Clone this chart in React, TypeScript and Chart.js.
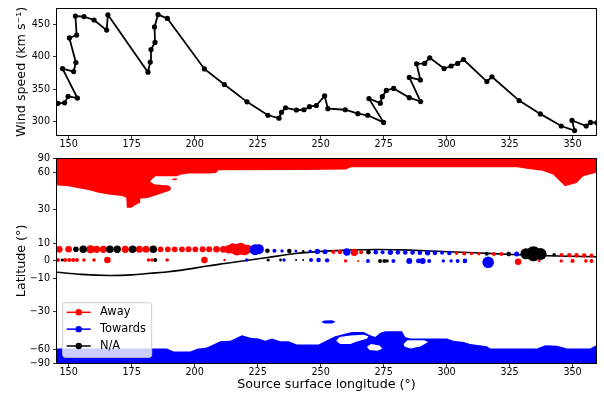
import React, { useEffect, useRef } from "react";
import { Chart, registerables } from "chart.js";

Chart.register(...registerables);

// ---------- axes ----------
const lonMin = 145.4;
const lonMax = 359.3;
const lonTicks = [150, 175, 200, 225, 250, 275, 300, 325, 350];
const speedMin = 279;
const speedMax = 474;
const speedTicks = [300, 350, 400, 450];
const latTicks = [-90, -60, -30, -10, 0, 10, 30, 60, 90];

// ---------- top panel: wind speed ----------
const speedLon = [145.8, 148.4, 149.8, 153.5, 147.6, 152.0, 152.9, 150.3, 153.2, 152.7, 156.1, 160.1, 165.1, 165.6, 181.5, 182.4, 182.7, 184.3, 184.1, 185.5, 189.2, 203.9, 211.8, 220.8, 229.1, 233.5, 234.5, 236.1, 240.4, 243.4, 245.6, 248.3, 251.6, 252.9, 259.8, 264.8, 268.7, 275.0, 269.2, 273.7, 274.5, 276.1, 279.0, 285.2, 289.7, 285.2, 289.6, 288.1, 291.3, 293.3, 299.0, 301.8, 304.4, 306.7, 316.0, 318.0, 328.8, 337.2, 345.5, 350.8, 349.8, 355.4, 357.1, 359.6];
const speedValue = [328, 328.7, 338.8, 336, 381.6, 377, 391, 428.9, 433.4, 462.7, 462, 456.6, 441, 464.6, 376, 391.7, 411, 422, 446, 465, 459, 381, 357, 330.2, 309.5, 305, 314, 321.1, 317.6, 318, 322.7, 324.6, 339.3, 319.6, 318, 312, 309.5, 298.5, 335.2, 328.2, 338.2, 347.9, 350.9, 336.7, 330.7, 368, 364, 389, 389.6, 398.2, 381.6, 385.6, 389.6, 395.6, 361.5, 369, 332.2, 311.6, 292.9, 285.9, 301.5, 292.9, 298.5, 298];

// ---------- bottom panel ----------
const seriesNames = ["Away", "Towards", "N/A"];

const trackLon = [145.4, 155, 166, 175, 182.4, 188, 195, 205, 212, 219, 229, 240, 252, 262, 272, 282, 291.5, 301, 311, 326, 344, 359.3];
const trackLat = [-6.4, -7.6, -8.2, -7.9, -7.0, -6.4, -5.2, -2.9, -1.5, -0.1, 1.9, 4.1, 5.5, 6.1, 6.4, 6.2, 5.7, 5.1, 4.6, 3.6, 2.7, 2.3];

const awayLon = [146.3, 150.0, 158.7, 161.1, 163.8, 172.5, 178.1, 180.7, 186.5, 189.4, 192.1, 195.0, 197.6, 200.3, 203.2, 205.8, 208.7, 211.4, 213.6, 215.2, 216.8, 218.3, 219.8, 221.0,
  255.1, 257.7, 263.4, 266.1, 304.0, 307.0, 309.9, 312.8, 318.8, 321.8, 345.6, 348.7, 351.6, 354.6, 357.5,
  145.8, 148.7, 150.3, 151.8, 153.3, 156.1, 160.1, 165.4, 181.7, 183.1, 189.1, 203.9, 211.9, 259.9, 264.9, 328.4, 336.8, 345.5, 350.0, 355.3, 357.5];
const awayLat = [6.5, 6.5, 6.5, 6.5, 6.5, 6.5, 6.5, 6.5, 6.5, 6.5, 6.5, 6.5, 6.5, 6.5, 6.5, 6.5, 6.5, 6.5, 6.5, 7.0, 6.3, 6.8, 6.2, 6.6,
  5.0, 5.0, 4.8, 4.8, 4.3, 4.2, 4.1, 4.0, 3.9, 3.8, 3.3, 3.2, 3.1, 3.0, 3.0,
  0.5, 0.5, 0.5, 0.5, 0.5, 0.5, 0.5, 0.5, 0.5, 0.5, 0.5, 0.5, 0.5, 0, 0, -0.5, 0, 0, 0, 0, 0];
const awaySize = [3.4, 3.3, 4.0, 3.6, 3.6, 3.6, 3.5, 3.5, 2.9, 2.9, 2.9, 2.9, 3.0, 2.9, 3.0, 3.0, 3.3, 3.4, 4.2, 5.2, 5.8, 6.0, 5.4, 4.5,
  2.0, 2.3, 3.7, 2.0, 1.7, 2.0, 1.7, 1.7, 2.0, 2.0, 2.0, 2.3, 2.3, 2.3, 2.0,
  2.0, 2.0, 2.0, 2.0, 2.0, 1.8, 1.8, 3.3, 1.8, 1.8, 1.8, 3.3, 1.2, 1.7, 1.0, 3.3, 1.3, 1.7, 2.1, 1.8, 2.0];

const towardsLon = [224.0, 225.5, 231.7, 234.7, 240.2, 245.9, 248.7, 251.8, 260.4, 271.9, 274.6, 277.7, 280.7, 283.6, 286.5, 289.4, 292.5, 295.4, 298.2, 301.1, 327.8,
  220.7, 235.5, 246.2, 249.2, 252.6, 268.8, 278.9, 285.2, 288.8, 290.5, 293.1, 298.7, 301.8, 304.4, 307.3, 316.5];
const towardsLat = [6.3, 6.6, 5.7, 5.6, 5.5, 5.4, 5.3, 5.1, 5.0, 4.9, 4.9, 4.8, 4.8, 4.7, 4.7, 4.6, 4.6, 4.5, 4.5, 4.4, 3.8,
  0.5, 0.5, 0.5, 0.5, 0.3, 0, 0, 0, 0, 0, 0, 0, 0, 0, 0, -0.8];
const towardsSize = [5.5, 5.0, 2.0, 1.7, 1.5, 1.7, 2.7, 2.5, 3.7, 2.3, 2.0, 2.7, 2.3, 2.3, 2.3, 2.3, 2.7, 2.3, 2.0, 2.3, 2.5,
  1.7, 1.7, 2.0, 2.3, 2.2, 2.0, 2.0, 3.0, 2.3, 3.0, 2.0, 1.7, 1.7, 2.0, 2.3, 5.8];

const naLon = [152.9, 155.8, 166.4, 169.3, 175.4, 183.6, 228.9, 237.6, 243.1, 269.0, 315.9, 324.7, 331.5, 334.5, 337.3, 342.7,
  147.5, 184.4, 229.2, 234.1, 240.3, 243.1, 273.6, 275.3, 276.4];
const naLat = [6.5, 6.5, 6.5, 6.5, 6.5, 6.5, 5.7, 5.5, 5.4, 4.9, 4.0, 3.8, 4.0, 4.0, 3.9, 3.4,
  0.5, 0.5, 0.5, 0.5, 0.5, 0.5, 0, 0, 0];
const naSize = [2.8, 3.8, 3.8, 3.7, 3.8, 3.8, 2.3, 2.3, 1.3, 2.3, 2.0, 2.3, 5.5, 7.5, 6.0, 1.7,
  1.6, 2.0, 1.6, 1.4, 1.0, 1.0, 2.0, 2.0, 1.7];

// polarity regions (lon / lat outlines)
const awayRegionLon = [140, 365, 365, 359, 354.2, 351.6, 347, 345, 342.3, 338, 331.8, 328, 262, 260, 244, 209.5, 208.5, 205.6, 197.6, 196.3, 194.3, 193, 184.4, 182.4, 183.1, 184.4, 189.7, 190.7, 190.3, 188.3, 184.4, 181.7, 178.4, 178.4, 176.5, 174.9, 173.1, 172.9, 171.2, 165.9, 161.9, 157.9, 154, 150, 146, 140];
const awayRegionLat = [90, 90, 59.4, 59.4, 56, 49.8, 47, 51.3, 57.7, 62, 64.5, 66.4, 66.4, 63.4, 63, 62.5, 59.5, 58.8, 58.8, 58.3, 57.5, 56, 56, 51.3, 49.8, 48.4, 47.6, 45.6, 43.6, 42.3, 39.9, 38.2, 37.4, 34.7, 33.1, 31.4, 31.4, 38.2, 39.4, 40.6, 41.8, 43.9, 45.4, 47, 47.6, 47.6];
const awayIslandLon = [191.0, 192.0, 193.4, 192.5, 191.2];
const awayIslandLat = [53.0, 54.0, 53.5, 52.2, 52.3];

const towardsRegionLon = [140, 189, 191.7, 198.3, 201, 204.9, 210.2, 214.2, 218.8, 222.1, 225.4, 228, 230.7, 234, 237.3, 240.6, 249.2, 252.5, 255.8, 258.5, 262.4, 267.1, 269.7, 271.7, 273.7, 275.7, 282.3, 283.6, 285.6, 300.1, 302.8, 306.8, 309.4, 316, 317.3, 335.9, 339.2, 343.8, 347.8, 357, 359.4, 365, 365, 140];
const towardsRegionLat = [-59, -59, -62.5, -62.5, -59.4, -57.9, -51.8, -51.5, -46.7, -48.9, -49.4, -51.5, -49.4, -51.8, -51.8, -54.9, -54.9, -50.9, -47.5, -46.1, -44.1, -44.1, -46.7, -48.1, -44.8, -43.5, -43.5, -48.1, -49.4, -49.4, -51.5, -52.5, -54.6, -56.6, -59, -59, -55.6, -56.2, -59, -59, -55.6, -55.6, -90, -90];
const towardsIslandLon = [250.3, 251.5, 254.5, 256, 254.5, 251.5];
const towardsIslandLat = [-36.8, -35.7, -35.6, -36.6, -37.8, -37.8];
const holeALon = [256.2, 257.5, 261.8, 267.05, 269, 268.4, 264.4, 261.8, 257.8];
const holeALat = [-51.5, -48.1, -46.9, -46.4, -47.5, -49.7, -52.1, -54.6, -54.6];
const holeBLon = [268.4, 270, 273.4, 274.5, 272.6, 269.4];
const holeBLat = [-57.2, -54.6, -56, -59.4, -61.7, -60.9];
const holeCLon = [282.9, 284.5, 291.1, 292.7, 289.8, 285.8, 283.4];
const holeCLat = [-54.6, -50.9, -50.9, -52.5, -56.6, -59, -57.2];

// ---------- styling ----------
const FAMILY = "'DejaVu Sans', sans-serif";
const RED = "#ff0000";
const BLUE = "#0000ff";
const BLACK = "#000000";
const tickFont = { family: FAMILY, size: 9.6 };
const titleFont = { family: FAMILY, size: 12.7 };

const sinLat = (lat: number) => Math.sin((lat * Math.PI) / 180);
const fmtLat = (v: number) => {
  const lat = Math.round((Math.asin(Math.max(-1, Math.min(1, v))) * 180) / Math.PI);
  return lat < 0 ? "\u2212" + Math.abs(lat) : String(lat);
};

const gridOpts = { drawOnChartArea: false, drawTicks: true, tickLength: 4, tickColor: BLACK, tickWidth: 0.8 };

const xScale = (height: number, title: string | null) => ({
  type: "linear" as const,
  min: lonMin,
  max: lonMax,
  afterBuildTicks: (s: any) => { s.ticks = lonTicks.map((v) => ({ value: v })); },
  afterFit: (s: any) => { s.height = height; },
  ticks: { font: tickFont, color: BLACK, padding: 0, maxRotation: 0, autoSkip: false },
  grid: gridOpts,
  border: { display: false },
  title: title
    ? { display: true, text: title, font: titleFont, color: BLACK, padding: { top: 0, bottom: 6.4 } }
    : { display: false },
});

const framePlugin = {
  id: "frame",
  afterDatasetsDraw(chart: any) {
    const { ctx, chartArea: a } = chart;
    ctx.save();
    ctx.strokeStyle = BLACK;
    ctx.lineWidth = 1;
    const l = Math.round(a.left) - 0.5, t = Math.round(a.top) - 0.5;
    const r = Math.round(a.right) + 0.5, b = Math.round(a.bottom) + 0.5;
    ctx.strokeRect(l, t, r - l, b - t);
    ctx.restore();
  },
};

const regions = [
  { lon: awayRegionLon, lat: awayRegionLat, color: RED },
  { lon: awayIslandLon, lat: awayIslandLat, color: RED },
  { lon: towardsRegionLon, lat: towardsRegionLat, color: BLUE },
  { lon: holeALon, lat: holeALat, color: "#ffffff" },
  { lon: holeBLon, lat: holeBLat, color: "#ffffff" },
  { lon: holeCLon, lat: holeCLat, color: "#ffffff" },
  { lon: towardsIslandLon, lat: towardsIslandLat, color: BLUE },
];

const regionsPlugin = {
  id: "regions",
  beforeDatasetsDraw(chart: any) {
    const { ctx, chartArea: a, scales } = chart;
    const xs = scales.x, ys = scales.y;
    ctx.save();
    ctx.beginPath();
    ctx.rect(a.left, a.top, a.right - a.left, a.bottom - a.top);
    ctx.clip();
    for (const r of regions) {
      ctx.beginPath();
      r.lon.forEach((lon, i) => {
        const px = xs.getPixelForValue(lon);
        const py = ys.getPixelForValue(sinLat(r.lat[i]));
        if (i === 0) ctx.moveTo(px, py); else ctx.lineTo(px, py);
      });
      ctx.closePath();
      ctx.fillStyle = r.color;
      ctx.fill();
    }
    ctx.restore();
  },
};

const legendColors = [RED, BLUE, BLACK];
const legendPlugin = {
  id: "boxLegend",
  afterDraw(chart: any) {
    const { ctx, chartArea: a } = chart;
    const bw = 89, bh = 54.6;
    const bx = a.left + 5.7, by = a.bottom - 5.7 - bh;
    ctx.save();
    ctx.beginPath();
    const rad = 2.5;
    ctx.moveTo(bx + rad, by);
    ctx.lineTo(bx + bw - rad, by);
    ctx.arcTo(bx + bw, by, bx + bw, by + rad, rad);
    ctx.lineTo(bx + bw, by + bh - rad);
    ctx.arcTo(bx + bw, by + bh, bx + bw - rad, by + bh, rad);
    ctx.lineTo(bx + rad, by + bh);
    ctx.arcTo(bx, by + bh, bx, by + bh - rad, rad);
    ctx.lineTo(bx, by + rad);
    ctx.arcTo(bx, by, bx + rad, by, rad);
    ctx.closePath();
    ctx.fillStyle = "rgba(255,255,255,0.8)";
    ctx.fill();
    ctx.strokeStyle = "#cccccc";
    ctx.lineWidth = 1;
    ctx.stroke();
    seriesNames.forEach((name, i) => {
      const cy = by + 9.6 + i * 16.85;
      ctx.strokeStyle = legendColors[i];
      ctx.lineWidth = 1.5;
      ctx.beginPath();
      ctx.moveTo(bx + 4, cy);
      ctx.lineTo(bx + 28, cy);
      ctx.stroke();
      ctx.fillStyle = legendColors[i];
      ctx.beginPath();
      ctx.arc(bx + 16, cy, 3.2, 0, Math.PI * 2);
      ctx.fill();
      ctx.fillStyle = BLACK;
      ctx.font = `11.4px ${FAMILY}`;
      ctx.textBaseline = "middle";
      ctx.textAlign = "left";
      ctx.fillText(name, bx + 37.3, cy);
    });
    ctx.restore();
  },
};

const pts = (lon: number[], lat: number[]) => lon.map((x, i) => ({ x, y: sinLat(lat[i]) }));

export default function App() {
  const topRef = useRef<HTMLCanvasElement>(null);
  const botRef = useRef<HTMLCanvasElement>(null);

  useEffect(() => {
    const top = new Chart(topRef.current as HTMLCanvasElement, {
      type: "scatter",
      data: {
        datasets: [
          {
            data: speedLon.map((x, i) => ({ x, y: speedValue[i] })),
            showLine: true,
            borderColor: BLACK,
            backgroundColor: BLACK,
            borderWidth: 1.8,
            pointRadius: 2.6,
            pointBorderWidth: 0,
            pointHoverRadius: 2.6,
          },
        ],
      },
      options: {
        responsive: false,
        animation: false,
        devicePixelRatio: 1,
        events: [],
        layout: { padding: { top: 6, right: 8, left: 0, bottom: 0 } },
        plugins: { legend: { display: false }, tooltip: { enabled: false } },
        scales: {
          x: xScale(17, null) as any,
          y: {
            type: "linear",
            min: speedMin,
            max: speedMax,
            afterBuildTicks: (s: any) => { s.ticks = speedTicks.map((v) => ({ value: v })); },
            afterFit: (s: any) => { s.width = 57; },
            ticks: { font: tickFont, color: BLACK, padding: 3 },
            grid: gridOpts,
            border: { display: false },
            title: { display: true, text: "Wind speed (km s\u207B\u00B9)", font: titleFont, color: BLACK, padding: { top: 14, bottom: 0 } },
          } as any,
        },
      },
      plugins: [framePlugin],
    });

    const bottom = new Chart(botRef.current as HTMLCanvasElement, {
      type: "scatter",
      data: {
        datasets: [
          {
            label: seriesNames[2],
            data: pts(naLon, naLat),
            backgroundColor: BLACK,
            pointRadius: (c: any) => naSize[c.dataIndex],
            pointBorderWidth: 0,
            order: 1,
          },
          {
            label: seriesNames[1],
            data: pts(towardsLon, towardsLat),
            backgroundColor: BLUE,
            pointRadius: (c: any) => towardsSize[c.dataIndex],
            pointBorderWidth: 0,
            order: 2,
          },
          {
            label: seriesNames[0],
            data: pts(awayLon, awayLat),
            backgroundColor: RED,
            pointRadius: (c: any) => awaySize[c.dataIndex],
            pointBorderWidth: 0,
            order: 3,
          },
          {
            label: "track",
            data: pts(trackLon, trackLat),
            showLine: true,
            borderColor: BLACK,
            borderWidth: 1.6,
            pointRadius: 0,
            tension: 0.35,
            order: 4,
          },
        ] as any,
      },
      options: {
        responsive: false,
        animation: false,
        devicePixelRatio: 1,
        events: [],
        layout: { padding: { top: 7, right: 8, left: 0, bottom: 0 } },
        plugins: { legend: { display: false }, tooltip: { enabled: false } },
        scales: {
          x: xScale(36, "Source surface longitude (\u00B0)") as any,
          y: {
            type: "linear",
            min: -1,
            max: 1,
            afterBuildTicks: (s: any) => { s.ticks = latTicks.map((l) => ({ value: sinLat(l) })); },
            afterFit: (s: any) => { s.width = 57; },
            ticks: { font: tickFont, color: BLACK, padding: 3, callback: (v: any) => fmtLat(Number(v)) },
            grid: gridOpts,
            border: { display: false },
            title: { display: true, text: "Latitude (\u00B0)", font: titleFont, color: BLACK, padding: { top: 14, bottom: 0 } },
          } as any,
        },
      },
      plugins: [regionsPlugin, framePlugin, legendPlugin],
    });

    return () => {
      top.destroy();
      bottom.destroy();
    };
  }, []);

  return (
    <div style={{ position: "fixed", left: 0, top: 0, width: 604, height: 399, background: "#ffffff" }}>
      <canvas ref={topRef} width={604} height={152} style={{ position: "absolute", left: 0, top: 0 }} />
      <canvas ref={botRef} width={604} height={249} style={{ position: "absolute", left: 0, top: 150 }} />
    </div>
  );
}
